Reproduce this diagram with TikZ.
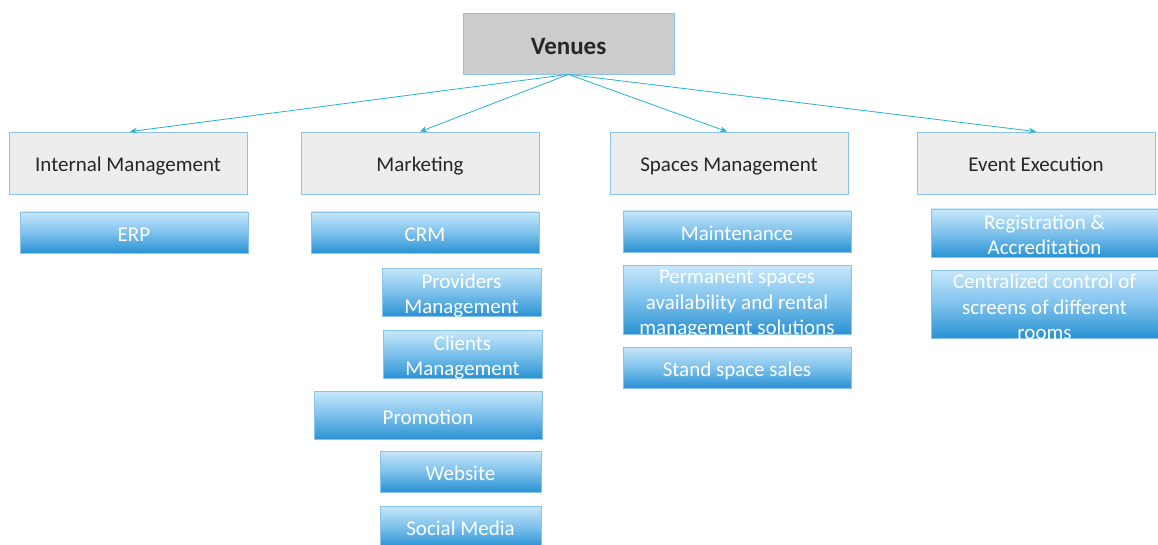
\documentclass[tikz,border=0pt]{standalone}
\usepackage{fontspec}
\setmainfont{Carlito}
\usetikzlibrary{arrows.meta}
\definecolor{edgeblue}{HTML}{8CC3E8}
\definecolor{topblue}{HTML}{C8E8FB}
\definecolor{midblue}{HTML}{7DC1EC}
\definecolor{botblue}{HTML}{2A92D3}
\definecolor{arrowcyan}{HTML}{22B4D6}
\definecolor{rootgray}{HTML}{CCCCCC}
\definecolor{catgray}{HTML}{EDEDED}
\tikzset{
  rootbox/.style={draw=edgeblue, line width=0.8pt, fill=rootgray, inner sep=0pt,
    minimum width=211pt, minimum height=61pt, text height=25pt, text depth=2pt,
    font=\fontsize{25}{30}\selectfont\bfseries, text=black!85},
  catbox/.style={draw=edgeblue, line width=0.8pt, fill=catgray, inner sep=0pt,
    minimum width=238pt, minimum height=62pt, text height=20pt, text depth=2pt,
    font=\fontsize{21}{25}\selectfont, text=black!85},
  bluebox/.style={draw=edgeblue, line width=0.8pt, top color=topblue, bottom color=botblue,
    middle color=midblue, inner sep=0pt},
  bluetxt/.style={text=white, align=center, inner sep=0pt, font=\fontsize{21}{25.5}\selectfont},
  oneline/.style={bluetxt, text height=20pt, text depth=2pt},
  link/.style={draw=arrowcyan, line width=0.8pt, -{Stealth[length=7pt,width=6pt]}}
}
\begin{document}
\begin{tikzpicture}[x=1pt,y=-1pt]
\useasboundingbox (0,0) rectangle (1158,545);
\fill[white] (0,0) rectangle (1158,545);

\node[rootbox] (venues) at (568.5,43.5) {Venues};

\node[catbox] (internal) at (128,163) {Internal Management};
\node[catbox] (marketing) at (420,163) {Marketing};
\node[catbox] (spaces) at (729,163) {Spaces Management};
\node[catbox] (event) at (1036,163) {Event Execution};

\coordinate (root) at (venues.south);
\draw[link] (root) -- ([xshift=2pt]internal.north);
\draw[link] (root) -- (marketing.north);
\draw[link] (root) -- ([xshift=-2pt]spaces.north);
\draw[link] (root) -- (event.north);

% Internal Management
\node[bluebox, minimum width=228pt, minimum height=41pt] (erp) at (134,232.5) {};
\node[oneline] (erpT) at (erp) {ERP};

% Marketing
\node[bluebox, minimum width=228pt, minimum height=41pt] (crm) at (425,232.5) {};
\node[oneline] (crmT) at (crm) {CRM};
\node[bluebox, minimum width=159pt, minimum height=48pt] (prov) at (461.5,292) {};
\node[bluetxt] (provT) at (461.5,295.5) {Providers\\Management};
\node[bluebox, minimum width=159pt, minimum height=48pt] (cli) at (462.5,354) {};
\node[bluetxt] (cliT) at (462.5,357.5) {Clients\\Management};
\node[bluebox, minimum width=228pt, minimum height=48pt] (promo) at (428,415) {};
\node[oneline] (promoT) at (promo) {Promotion};
\node[bluebox, minimum width=161pt, minimum height=41pt] (web) at (460.5,471.5) {};
\node[oneline] (webT) at (web) {Website};
\node[bluebox, minimum width=161pt, minimum height=41pt] (social) at (460.5,526.5) {};
\node[oneline] (socialT) at (social) {Social Media};

% Spaces Management
\node[bluebox, minimum width=228pt, minimum height=41pt] (maint) at (737,231.5) {};
\node[oneline] (maintT) at (maint) {Maintenance};
\node[bluebox, minimum width=228pt, minimum height=69pt] (perm) at (737,299.5) {};
\node[bluetxt] (permT) at (737,304.5) {Permanent spaces\\availability and rental\\management solutions};
\node[bluebox, minimum width=228pt, minimum height=41pt] (stand) at (737,367.5) {};
\node[oneline] (standT) at (stand) {Stand space sales};

% Event Execution
\node[bluebox, minimum width=227pt, minimum height=48pt] (reg) at (1044.5,233) {};
\node[bluetxt] (regT) at (1044.5,235) {Registration \&\\Accreditation};
\node[bluebox, minimum width=227pt, minimum height=68pt] (ctrl) at (1044.5,304) {};
\node[bluetxt] (ctrlT) at (1044.5,307) {Centralized control of\\screens of different\\rooms};
\end{tikzpicture}
\end{document}
